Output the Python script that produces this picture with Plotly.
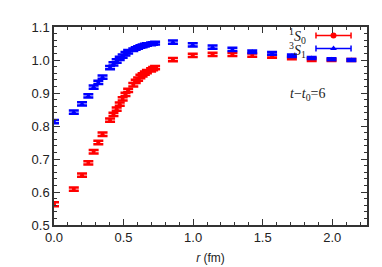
import plotly.graph_objects as go

# lattice distances r (fm)
r_vals = [0.0, 0.1425, 0.2015, 0.2468, 0.285, 0.3186, 0.349, 0.403, 0.4275, 0.4506,
          0.4726, 0.4936, 0.5138, 0.533, 0.570, 0.5875, 0.6046, 0.621, 0.637, 0.653,
          0.668, 0.698, 0.7125, 0.7266, 0.855, 0.9975, 1.14, 1.2825, 1.425, 1.5675,
          1.71, 1.8525, 1.995, 2.1375]

s0_vals = [0.563, 0.609, 0.651, 0.688, 0.722, 0.750, 0.775, 0.818, 0.835, 0.851,
           0.866, 0.882, 0.896, 0.908, 0.925, 0.935, 0.942, 0.950, 0.955, 0.960,
           0.965, 0.970, 0.974, 0.977, 1.001, 1.014, 1.017, 1.017, 1.015, 1.011,
           1.006, 1.001, 1.000, 1.000]
s0_err = [0.006, 0.005, 0.005, 0.005, 0.005, 0.005, 0.005, 0.005, 0.005, 0.005,
          0.005, 0.005, 0.005, 0.005, 0.005, 0.005, 0.005, 0.005, 0.005, 0.005,
          0.005, 0.005, 0.005, 0.005, 0.005, 0.005, 0.005, 0.005, 0.005, 0.004,
          0.004, 0.004, 0.003, 0.003]

s1_vals = [0.813, 0.842, 0.867, 0.891, 0.918, 0.932, 0.948, 0.977, 0.988, 0.997,
           1.005, 1.012, 1.019, 1.025, 1.031, 1.035, 1.038, 1.041, 1.043, 1.045,
           1.047, 1.049, 1.050, 1.051, 1.054, 1.046, 1.039, 1.032, 1.025, 1.020,
           1.013, 1.006, 1.002, 1.000]
s1_err = [0.005, 0.005, 0.005, 0.005, 0.005, 0.005, 0.005, 0.005, 0.005, 0.005,
          0.005, 0.005, 0.005, 0.005, 0.004, 0.004, 0.004, 0.004, 0.004, 0.004,
          0.004, 0.004, 0.004, 0.004, 0.005, 0.005, 0.005, 0.005, 0.004, 0.004,
          0.004, 0.003, 0.003, 0.003]

x_ticks = [0.0, 0.5, 1.0, 1.5, 2.0]
y_ticks = [0.5, 0.6, 0.7, 0.8, 0.9, 1.0, 1.1]

RED = "#ff0000"
BLUE = "#0000ff"
SERIF = "Liberation Serif, Times New Roman, serif"
SANS = "Liberation Sans, Arial, Helvetica, sans-serif"

fig = go.Figure()
fig.add_trace(go.Scatter(
    x=r_vals, y=s0_vals, mode="markers",
    marker=dict(symbol="circle", size=4, color=RED),
    error_y=dict(type="data", array=s0_err, color=RED, thickness=2.5, width=5),
    showlegend=False))
fig.add_trace(go.Scatter(
    x=r_vals, y=s1_vals, mode="markers",
    marker=dict(symbol="triangle-up", size=5, color=BLUE),
    error_y=dict(type="data", array=s1_err, color=BLUE, thickness=2.5, width=5),
    showlegend=False))

# legend keys on an overlay axis in [0,1]
fig.add_trace(go.Scatter(
    x=[0.893], y=[0.957], mode="markers", xaxis="x2", yaxis="y2",
    marker=dict(symbol="circle", size=6, color=RED),
    error_x=dict(type="constant", value=0.056, color=RED, thickness=1.5, width=3),
    showlegend=False, hoverinfo="skip"))
fig.add_trace(go.Scatter(
    x=[0.893], y=[0.892], mode="markers", xaxis="x2", yaxis="y2",
    marker=dict(symbol="triangle-up", size=6, color=BLUE),
    error_x=dict(type="constant", value=0.056, color=BLUE, thickness=1.5, width=3),
    showlegend=False, hoverinfo="skip"))

axis_common = dict(
    showline=True, linecolor="#333333", linewidth=1.5, mirror="allticks",
    ticks="inside", ticklen=6, tickwidth=1, tickcolor="#333333",
    showgrid=False, zeroline=False,
    tickfont=dict(family=SANS, size=13, color="#222222"),
)

fig.update_layout(
    width=382, height=267,
    margin=dict(l=46, r=23, t=16, b=40),
    paper_bgcolor="white", plot_bgcolor="white",
    xaxis=dict(range=[0, 2.25], tickvals=x_ticks, ticktext=[f"{v:.1f}" for v in x_ticks],
               minor=dict(dtick=0.1, ticks="inside", ticklen=3, tickcolor="#333333"),
               title=dict(text="<i>r</i> (fm)", font=dict(family=SANS, size=12, color="#222222"),
                          standoff=9),
               **axis_common),
    yaxis=dict(range=[0.5, 1.1], tickvals=y_ticks, ticktext=[f"{v:.1f}" for v in y_ticks],
               minor=dict(dtick=0.02, ticks="inside", ticklen=3, tickcolor="#333333"),
               **axis_common),
    xaxis2=dict(range=[0, 1], overlaying="x", visible=False),
    yaxis2=dict(range=[0, 1], overlaying="y", visible=False),
    annotations=[
        dict(xref="paper", yref="paper", x=0.812, y=0.957, xanchor="right", yanchor="middle",
             text="<sup>1</sup><i>S</i><sub>0</sub>", showarrow=False,
             font=dict(family=SERIF, size=14, color="#222222")),
        dict(xref="paper", yref="paper", x=0.812, y=0.885, xanchor="right", yanchor="middle",
             text="<sup>3</sup><i>S</i><sub>1</sub>", showarrow=False,
             font=dict(family=SERIF, size=14, color="#222222")),
        dict(xref="paper", yref="paper", x=0.81, y=0.66, xanchor="center", yanchor="middle",
             text="<i>t</i>−<i>t</i><sub>0</sub>=6", showarrow=False,
             font=dict(family=SERIF, size=14, color="#222222")),
    ],
)

fig.write_html("out.html")
